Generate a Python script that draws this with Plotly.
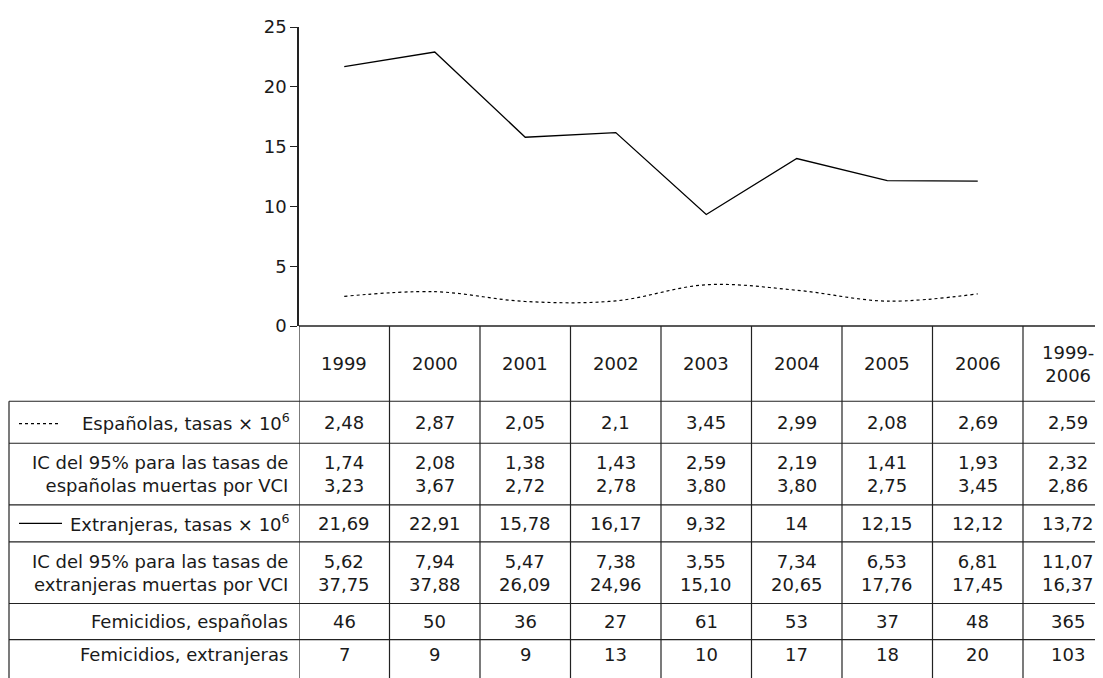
import plotly.graph_objects as go

years = ["1999", "2000", "2001", "2002", "2003", "2004", "2005", "2006"]
headers = years + ["1999-<br>2006"]
esp_rate = [2.48, 2.87, 2.05, 2.1, 3.45, 2.99, 2.08, 2.69]
ext_rate = [21.69, 22.91, 15.78, 16.17, 9.32, 14, 12.15, 12.12]
row_esp = ["2,48", "2,87", "2,05", "2,1", "3,45", "2,99", "2,08", "2,69", "2,59"]
row_esp_ic = ["1,74<br>3,23", "2,08<br>3,67", "1,38<br>2,72", "1,43<br>2,78", "2,59<br>3,80",
              "2,19<br>3,80", "1,41<br>2,75", "1,93<br>3,45", "2,32<br>2,86"]
row_ext = ["21,69", "22,91", "15,78", "16,17", "9,32", "14", "12,15", "12,12", "13,72"]
row_ext_ic = ["5,62<br>37,75", "7,94<br>37,88", "5,47<br>26,09", "7,38<br>24,96", "3,55<br>15,10",
              "7,34<br>20,65", "6,53<br>17,76", "6,81<br>17,45", "11,07<br>16,37"]
row_fem_esp = ["46", "50", "36", "27", "61", "53", "37", "48", "365"]
row_fem_ext = ["7", "9", "9", "13", "10", "17", "18", "20", "103"]
row_labels = ["Españolas, tasas × 10<sup>6</sup>",
              "IC del 95% para las tasas de<br>españolas muertas por VCI",
              "Extranjeras, tasas × 10<sup>6</sup>",
              "IC del 95% para las tasas de<br>extranjeras muertas por VCI",
              "Femicidios, españolas", "Femicidios, extranjeras"]
rows = [row_esp, row_esp_ic, row_ext, row_ext_ic, row_fem_esp, row_fem_ext]

W, H = 1103, 678
O = 8  # page body offset
L, T, B, R = 299, 20, 326, 1103  # screen pixel coords of plot area
COLW = 90.5
XMAX = (R - L) / COLW
def py(p):
    return (B - p) / (B - T)
def px(p):
    return (p - L) / (R - L)

row_edges = [326, 403, 446, 509, 547, 610, 647, 690]

xc = [i + 0.5 for i in range(len(years))]
fig = go.Figure()
fig.add_trace(go.Scatter(x=xc, y=esp_rate, mode="lines",
                         line=dict(color="black", width=1.2, dash="dot", shape="spline")))
fig.add_trace(go.Scatter(x=xc, y=ext_rate, mode="lines",
                         line=dict(color="black", width=1.3)))

shapes = []
lc = "#222"
shapes.append(dict(type="line", xref="paper", yref="paper", x0=0, x1=1, y0=0, y1=0,
                   line=dict(color=lc, width=1.5)))
for e in row_edges[1:-1]:
    shapes.append(dict(type="line", xref="paper", yref="paper", x0=px(9), x1=1,
                       y0=py(e), y1=py(e), line=dict(color=lc, width=1.2)))
for i in range(9):
    shapes.append(dict(type="line", xref="x", yref="paper", x0=i, x1=i,
                       y0=0, y1=py(690), line=dict(color=lc, width=1.2)))
shapes.append(dict(type="line", xref="paper", yref="paper", x0=px(9), x1=px(9),
                   y0=py(403), y1=py(690), line=dict(color=lc, width=1.2)))
shapes.append(dict(type="line", xref="paper", yref="paper", x0=px(19), x1=px(58),
                   y0=py(426), y1=py(426), line=dict(color="black", width=1.2, dash="dot")))
shapes.append(dict(type="line", xref="paper", yref="paper", x0=px(19), x1=px(62),
                   y0=py(528), y1=py(528), line=dict(color="black", width=1.2)))

ann = []
font = dict(family="DejaVu Sans", size=18, color="#1a1a1a")
mid = lambda a, b: py((a + b) / 2)
for j, h in enumerate(headers):
    ann.append(dict(x=j + 0.5, y=mid(326, 403), xref="x", yref="paper", text=h,
                    showarrow=False, font=font, align="center", xanchor="center", yanchor="middle"))
for r, (lab, vals) in enumerate(zip(row_labels, rows)):
    a, b = row_edges[r + 1], row_edges[r + 2]
    if r == 5:
        b = 678
    lx = 290 if r not in (0, 2) else 292
    ann.append(dict(x=px(lx), y=mid(a, b), xref="paper", yref="paper", text=lab,
                    showarrow=False, font=font, xanchor="right", yanchor="middle", align="right"))
    for j, v in enumerate(vals):
        ann.append(dict(x=j + 0.5, y=mid(a, b), xref="x", yref="paper", text=v,
                        showarrow=False, font=font, align="center", xanchor="center", yanchor="middle"))

fig.update_layout(
    width=W, height=H, margin=dict(l=L - O, r=W - R + O, t=T - O, b=H - B + O),
    plot_bgcolor="white", paper_bgcolor="white", showlegend=False,
    shapes=shapes, annotations=ann,
    xaxis=dict(range=[0, XMAX], visible=False, fixedrange=True),
    yaxis=dict(range=[0, 25], dtick=5, showgrid=False, zeroline=False, showline=True,
               linecolor=lc, linewidth=1.5, ticks="outside", ticklen=7, tickcolor=lc,
               tickfont=font, fixedrange=True),
)
fig.write_html("out.html")
